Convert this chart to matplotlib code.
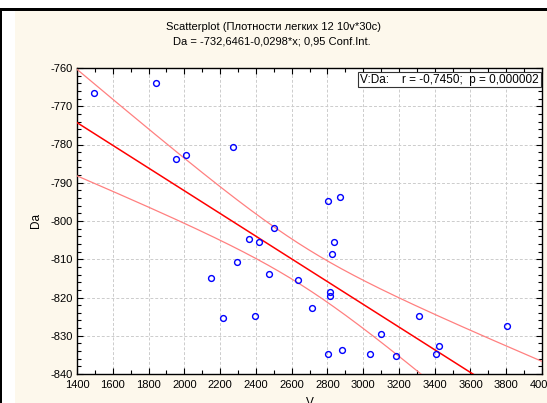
import matplotlib
matplotlib.use('Agg')
import matplotlib.pyplot as plt
import numpy as np
from matplotlib.patches import Rectangle
from matplotlib.ticker import MultipleLocator

# Data (V, Da)
v = [1495, 1844, 1956, 2012, 2272, 2804, 2871, 2499, 2363, 2419,
     2835, 2826, 2296, 2149, 2475, 2634, 2815, 2815, 2712, 2216,
     2398, 2804, 2882, 3041, 3097, 3186, 3311, 3423, 3410, 3806]
da = [-766.5, -763.9, -783.9, -782.8, -780.7, -794.9, -793.7, -801.7, -804.8, -805.4,
      -805.4, -808.5, -810.6, -814.9, -813.8, -815.4, -818.5, -819.5, -822.7, -825.4,
      -824.9, -834.9, -833.8, -834.9, -829.6, -835.4, -824.9, -832.8, -834.9, -827.5]

title1 = 'Scatterplot (Плотности легких 12 10v*30c)'
title2 = 'Da = -732,6461-0,0298*x; 0,95 Conf.Int.'
stats_text = 'V:Da:    r = -0,7450;  p = 0,000002'

plt.rcParams['font.family'] = ['Liberation Sans', 'DejaVu Sans']
plt.rcParams['axes.unicode_minus'] = False

fig = plt.figure(figsize=(5.47, 4.03), dpi=100)
fig.patch.set_facecolor('white')
W, H = 547, 403
# cream panel and black frame edges (pixel coords)
fig.patches.append(Rectangle((15 / W, 0), 1 - 15 / W, 1 - 11 / H, transform=fig.transFigure,
                             facecolor='#fdf8ec', edgecolor='none', zorder=-2))
fig.patches.append(Rectangle((0, 0), 2 / W, 1 - 9 / H, transform=fig.transFigure,
                             facecolor='black', edgecolor='none', zorder=-1))
fig.patches.append(Rectangle((0, 1 - 11 / H), 1, 2.5 / H, transform=fig.transFigure,
                             facecolor='black', edgecolor='none', zorder=-1))

ax = fig.add_axes([77 / W, 1 - 374 / H, (542 - 77) / W, (374 - 68) / H])
ax.set_facecolor('white')

x = np.array(v, dtype=float)
y = np.array(da, dtype=float)
n = len(x)
b, a = np.polyfit(x, y, 1)
xs = np.linspace(1400, 4000, 300)
fit = a + b * xs
resid = y - (a + b * x)
s = np.sqrt(np.sum(resid ** 2) / (n - 2))
sxx = np.sum((x - x.mean()) ** 2)
t = 2.048
half = t * s * np.sqrt(1 / n + (xs - x.mean()) ** 2 / sxx)

ax.plot(xs, fit, color='#ff0000', lw=1.1, zorder=3)
ax.plot(xs, fit + half, color='#ff8080', lw=0.9, zorder=3)
ax.plot(xs, fit - half, color='#ff8080', lw=0.9, zorder=3)
ax.plot(x, y, 'o', mfc='none', mec='#0000ff', ms=4.2, mew=1.0, zorder=4)

ax.set_xlim(1400, 4000)
ax.set_ylim(-840, -760)
ax.xaxis.set_major_locator(MultipleLocator(200))
ax.xaxis.set_minor_locator(MultipleLocator(100))
ax.yaxis.set_major_locator(MultipleLocator(10))
ax.yaxis.set_minor_locator(MultipleLocator(2))
ax.tick_params(which='both', direction='in', top=True, right=True, labelsize=8)
ax.tick_params(axis='x', pad=4)
ax.tick_params(axis='y', pad=3)
ax.tick_params(which='major', length=4, width=0.8)
ax.tick_params(which='minor', length=3, width=0.8)
ax.grid(True, which='major', linestyle=(0, (3, 2)), color='#cccccc', lw=0.7)
for sp in ax.spines.values():
    sp.set_linewidth(1.0)

ax.set_xlabel('V', fontsize=8.5, labelpad=5)
ax.set_ylabel('Da', fontsize=8.5, labelpad=6)

fig.text(274 / W, 1 - 27 / H, title1, ha='center', va='center', fontsize=8)
fig.text(272 / W, 1 - 42 / H, title2, ha='center', va='center', fontsize=8)

ax.text(0.993, 0.982, stats_text, transform=ax.transAxes, ha='right', va='top', fontsize=8.5,
        bbox=dict(boxstyle='square,pad=0.15', facecolor='white', edgecolor='#333333', lw=0.8),
        zorder=5)

fig.savefig('out.png', dpi=100)
